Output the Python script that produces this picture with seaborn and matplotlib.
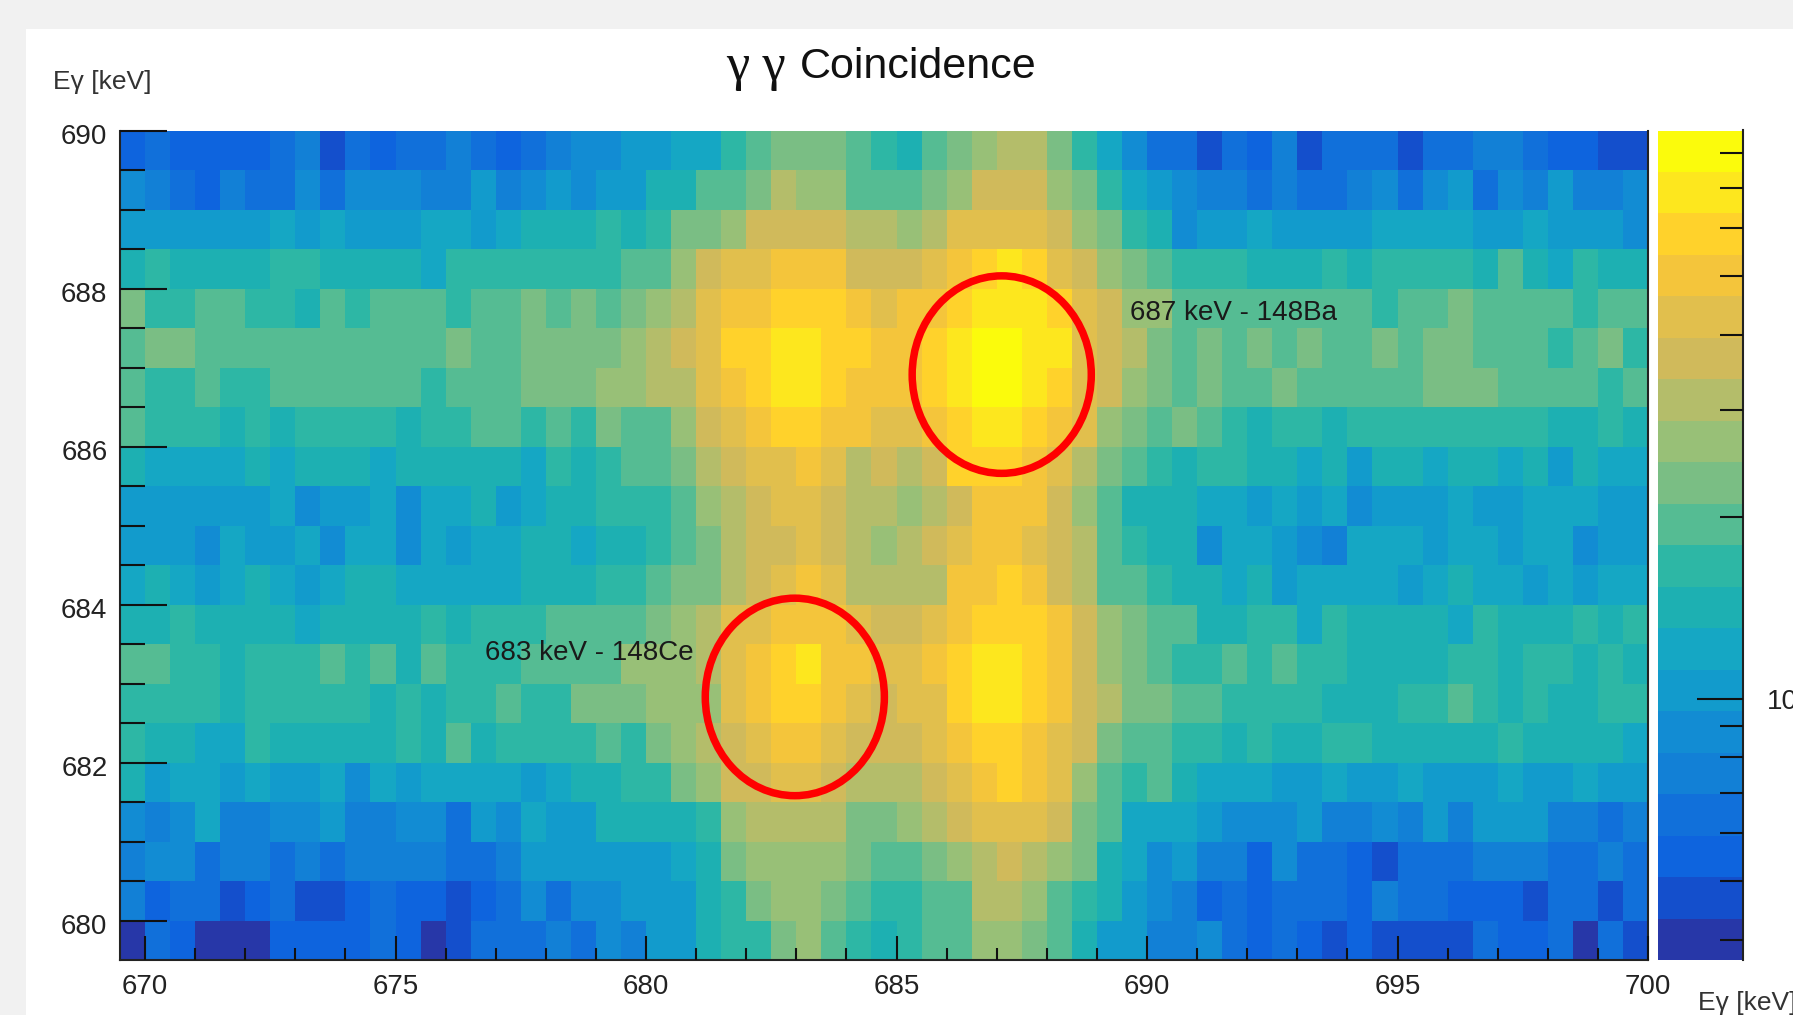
import numpy as np
import pandas as pd
import matplotlib
matplotlib.use('Agg')
import matplotlib.pyplot as plt
import seaborn as sns
from matplotlib.colors import ListedColormap, LogNorm
from matplotlib.patches import Ellipse, Rectangle
from matplotlib.transforms import ScaledTranslation

# colour steps of the z palette, low to high
palette = ['#2737A8', '#144FCC', '#0E64DE', '#1170DA', '#1280D6', '#128CD3', '#129BCC',
           '#15A7C4', '#1DB0B2', '#2DB7A5', '#55BC93', '#7ABE84', '#98C077', '#B4BD6A',
           '#D0BA5B', '#E1BF4D', '#F4C53B', '#FFD22B', '#FDE71E', '#FBFB0C']

# palette step of every bin, one list per row, top row first
row_689_5 = [2,3,2,2,2,2,3,4,1,3,2,3,3,4,3,2,3,4,5,5,6,6,7,7,9,10,11,11,11,10,9,8,10,11,12,13,13,11,9,7,5,3,3,1,3,2,4,1,3,3,3,1,3,3,4,4,3,2,2,1,1]
row_689_0 = [5,4,3,2,4,3,3,5,3,5,5,5,4,4,6,4,5,6,5,6,6,8,8,10,10,11,13,12,12,10,10,10,11,12,14,14,14,12,11,9,7,6,5,4,4,3,4,3,3,4,5,3,5,6,3,5,4,6,4,4,5]
row_688_5 = [6,6,6,6,6,6,7,6,7,6,6,6,7,7,6,7,8,8,8,9,8,9,11,11,12,14,14,14,14,13,13,12,13,15,15,15,15,14,12,11,9,8,5,6,6,7,6,6,6,6,7,7,7,7,6,6,7,6,6,6,5]
row_688_0 = [8,9,8,8,8,8,9,9,8,8,8,8,7,9,9,9,9,9,9,9,10,10,12,14,15,15,16,16,16,14,14,14,15,16,17,18,17,15,14,12,11,10,9,9,9,8,8,8,9,8,9,9,9,9,8,10,8,7,9,8,8]
row_687_5 = [11,9,9,10,10,9,9,8,10,9,10,10,10,9,10,10,11,10,11,10,11,12,13,15,16,16,17,17,17,16,15,16,16,17,18,18,18,17,15,14,12,12,10,10,10,10,10,10,10,10,9,10,10,11,10,10,10,10,9,10,10]
row_687_0 = [10,11,11,10,10,10,10,10,10,10,10,10,10,11,10,10,11,11,11,11,12,13,14,15,17,17,18,18,17,17,16,16,17,18,19,19,18,18,15,14,13,11,10,11,10,11,10,11,10,10,11,10,11,11,10,10,10,9,10,11,9]
row_686_5 = [10,9,9,10,9,9,10,10,10,10,10,10,9,10,10,10,11,11,11,12,12,13,13,15,16,17,18,18,17,16,16,16,17,18,19,19,18,17,15,14,12,11,10,11,10,10,11,10,10,10,10,10,11,11,11,10,10,10,10,9,10]
row_686_0 = [10,9,9,9,8,9,8,9,9,9,9,8,9,9,10,10,9,10,9,11,10,10,12,14,15,16,17,17,16,16,15,15,16,17,18,18,17,16,15,12,11,10,11,10,9,8,9,9,8,9,9,9,9,9,9,9,9,8,8,9,8]
row_685_5 = [8,7,7,7,7,8,7,8,8,8,7,8,8,8,8,8,7,9,8,9,10,10,11,13,14,15,15,16,15,13,14,13,14,17,17,17,16,15,13,11,10,9,8,9,9,8,8,7,8,6,8,8,7,8,8,7,8,6,8,7,7]
row_685_0 = [6,6,6,6,6,6,7,5,6,6,7,5,7,7,8,6,7,8,8,9,9,9,10,12,13,14,15,15,14,13,13,12,13,14,16,16,16,14,12,10,8,8,8,7,7,6,7,6,7,5,6,6,6,7,6,6,7,7,7,6,6]
row_684_5 = [6,6,6,5,7,6,6,7,5,7,7,5,7,6,7,7,8,8,7,8,8,9,10,11,13,14,14,15,14,13,12,13,14,15,16,16,15,14,13,10,9,8,8,5,7,7,6,5,4,7,7,7,6,7,7,6,7,7,5,6,6]
row_684_0 = [7,8,7,6,7,8,7,6,7,8,8,7,7,7,7,7,8,8,8,9,9,10,11,11,13,14,15,16,15,13,13,13,13,16,16,17,16,14,13,10,10,9,8,8,7,8,6,7,7,7,7,6,7,8,7,7,6,7,6,7,7]
row_683_5 = [8,8,9,8,8,8,8,7,8,8,8,8,9,8,9,9,9,10,10,10,10,11,12,13,15,15,16,16,16,15,14,14,15,16,17,17,17,16,14,12,11,10,10,8,8,9,9,7,9,8,8,8,8,7,9,8,8,8,9,8,9]
row_683_0 = [10,10,9,9,8,9,9,9,10,9,10,8,10,9,9,9,10,10,10,10,12,12,12,13,15,16,17,18,16,16,15,15,16,17,18,18,17,16,14,12,11,10,9,9,10,9,10,9,9,8,8,8,8,9,9,8,9,9,8,9,8]
row_682_5 = [9,9,9,9,8,9,9,9,9,9,8,9,8,9,9,10,9,9,11,11,11,12,12,12,15,16,17,17,16,15,14,15,15,17,18,18,17,16,14,13,11,11,10,10,9,9,9,9,8,8,8,9,9,10,9,8,9,8,8,9,9]
row_682_0 = [9,8,8,7,7,9,8,8,8,8,8,9,8,10,8,9,9,9,9,10,9,11,12,13,14,15,16,16,15,14,14,14,15,16,17,17,16,15,14,11,10,10,9,9,8,9,8,8,9,9,8,8,8,8,8,9,8,8,8,8,7]
row_681_5 = [8,6,7,7,6,7,6,6,7,5,7,6,7,7,7,7,6,7,8,8,9,9,11,12,14,14,15,15,14,13,13,13,14,15,16,17,16,15,12,10,9,10,8,7,7,7,6,6,7,6,6,7,6,6,6,7,6,6,7,6,6]
row_681_0 = [5,4,5,7,4,4,5,5,6,4,4,5,5,3,6,5,7,6,6,8,8,8,8,9,12,13,13,13,13,11,11,12,13,14,15,15,15,14,11,10,7,7,7,6,5,5,5,6,4,4,5,4,6,4,6,6,6,4,4,3,4]
row_680_5 = [4,5,5,3,4,4,3,4,3,4,4,4,4,3,3,4,6,6,6,6,6,6,7,8,11,12,12,12,12,11,10,10,11,12,13,14,13,12,11,8,7,5,6,4,4,2,5,3,3,2,1,3,3,3,4,4,4,3,3,4,3]
row_680_0 = [4,2,3,3,1,2,3,1,1,2,3,2,2,1,2,3,5,3,5,5,6,6,6,8,9,11,12,12,11,10,9,9,10,10,13,13,12,10,9,8,6,5,4,2,3,2,3,3,3,2,4,3,3,2,2,2,1,3,3,1,3]
row_679_5 = [0,3,2,0,0,0,2,2,2,2,3,2,0,1,3,3,3,4,3,5,4,6,6,8,9,9,11,12,10,9,8,9,10,10,12,12,11,10,8,6,6,4,4,5,3,2,3,2,1,2,1,1,1,1,3,2,2,3,0,3,1]

rows = [row_689_5, row_689_0, row_688_5, row_688_0, row_687_5, row_687_0, row_686_5,
        row_686_0, row_685_5, row_685_0, row_684_5, row_684_0, row_683_5, row_683_0,
        row_682_5, row_682_0, row_681_5, row_681_0, row_680_5, row_680_0, row_679_5]

x_start, y_top, bin_width = 669.5, 690.0, 0.5
x_major = [670, 675, 680, 685, 690, 695, 700]
y_major = [680, 682, 684, 686, 688, 690]
z_min, z_max = 3.7, 87.0
z_minor = [4, 5, 6, 7, 8, 9, 20, 30, 40, 50, 60, 70, 80]

W, H = 1793, 1015
sns.set_theme(style='white')
plt.rcParams['font.family'] = ['Liberation Sans', 'DejaVu Sans']


def fx(px):
    return px / W


def fy(py):
    return 1 - py / H


def cell_x(v):
    return (np.asarray(v) - x_start) / bin_width


def cell_y(v):
    return (y_top - np.asarray(v)) / bin_width


# bin contents from the palette steps (steps are equal on the log z axis)
edges = np.geomspace(z_min, z_max, len(palette) + 1)
centers = np.sqrt(edges[:-1] * edges[1:])
x_bins = [x_start + bin_width * i for i in range(len(rows[0]))]
y_bins = [y_top - bin_width * (i + 1) for i in range(len(rows))]
df = pd.DataFrame(centers[np.array(rows)], index=y_bins, columns=x_bins)

fig = plt.figure(figsize=(W / 100, H / 100), dpi=100, facecolor='#F1F1F1')
fig.add_artist(Rectangle((fx(26), 0), 1, fy(29), transform=fig.transFigure, facecolor='white',
                         edgecolor='none', zorder=-1))

ax = fig.add_axes([fx(120), fy(960), (1648 - 120) / W, (960 - 130.5) / H])
cax = fig.add_axes([fx(1658), fy(960), (1743 - 1658) / W, (960 - 130.5) / H])

sns.heatmap(df, ax=ax, cbar_ax=cax, cmap=ListedColormap(palette), norm=LogNorm(z_min, z_max),
            xticklabels=False, yticklabels=False, linewidths=0)
ax.set_axisbelow(False)
cax.set_axisbelow(False)

# main axis ticks
ax.set_xticks(cell_x(x_major))
ax.set_xticklabels([str(v) for v in x_major])
ax.set_xticks(cell_x(np.arange(670, 701, 1)), minor=True)
ax.set_yticks(cell_y(y_major))
ax.set_yticklabels([str(v) for v in y_major], rotation=0)
ax.set_yticks(cell_y(np.arange(680, 690.5, 0.5)), minor=True)
ax.tick_params(axis='x', which='major', direction='in', bottom=True, length=17, width=1.5,
               color='#111111', labelsize=20, pad=10, labelcolor='#222222')
ax.tick_params(axis='x', which='minor', direction='in', bottom=True, length=9, width=1.5, color='#111111')
ax.tick_params(axis='y', which='major', direction='in', left=True, length=34, width=1.5,
               color='#111111', labelsize=20, pad=9, labelcolor='#222222')
ax.tick_params(axis='y', which='minor', direction='in', left=True, length=18, width=1.5, color='#111111')
for lab in ax.get_yticklabels():
    lab.set_transform(lab.get_transform() + ScaledTranslation(0, -3.5 / 100, fig.dpi_scale_trans))
for side, show in [('left', True), ('bottom', True), ('right', True), ('top', False)]:
    ax.spines[side].set_visible(show)
    ax.spines[side].set_color('#222222')
    ax.spines[side].set_linewidth(1.5)

# peak markers
for cx, cy in [(687.1, 686.91), (682.97, 682.83)]:
    ax.add_patch(Ellipse((cell_x(cx), cell_y(cy)), 3.575 / bin_width, 2.5 / bin_width,
                         fill=False, edgecolor='#FF0000', linewidth=5.4, zorder=5))

# log colour bar with ROOT style ticks
cax.yaxis.set_ticks_position('right')
cax.set_yticks([10])
cax.set_yticklabels(['10'])
cax.set_yticks(z_minor, minor=True)
cax.set_yticklabels([''] * len(z_minor), minor=True)
cax.tick_params(axis='y', which='major', direction='in', length=33, width=1.5, color='#111111',
                labelsize=20, pad=17, labelcolor='#222222')
cax.tick_params(axis='y', which='minor', direction='in', length=16.5, width=1.5, color='#111111')
cax.spines['right'].set_visible(True)
cax.spines['right'].set_color('#222222')
cax.spines['right'].set_linewidth(1.5)

# texts
fig.text(fx(726), fy(80), 'γ γ', family='Liberation Serif', fontsize=38, color='#111111', va='baseline')
fig.text(fx(800), fy(78), 'Coincidence', fontsize=31, color='#111111', va='baseline')
fig.text(fx(53), fy(82), 'Eγ [keV]', fontsize=19, color='#333333', va='center')
fig.text(fx(1698), fy(1003), 'Eγ [keV]', fontsize=19, color='#333333', va='center')
fig.text(fx(1130), fy(313), '687 keV - 148Ba', fontsize=20, color='#1a1a1a', va='center')
fig.text(fx(485), fy(653), '683 keV - 148Ce', fontsize=20, color='#1a1a1a', va='center')

fig.savefig('out.png', dpi=100, facecolor=fig.get_facecolor())
